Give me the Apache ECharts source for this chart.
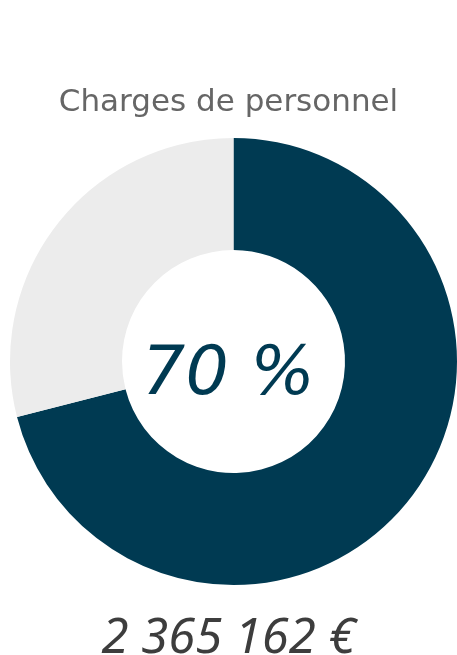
<!DOCTYPE html>
<html>
<head>
<meta charset="utf-8">
<script src="https://cdn.jsdelivr.net/npm/echarts@6/dist/echarts.min.js"></script>
<style>
  html, body { margin: 0; padding: 0; background: #fff; }
  #chart { width: 457px; height: 655px; }
</style>
</head>
<body>
<div id="chart"></div>
<script>
  var chartTitle = 'Charges de personnel';
  var sliceNames = ['Charges de personnel', 'Autres'];
  // share (the boundary sits ~14° below horizontal)
  var sliceValues = [71, 29];
  var centerLabel = '70 %';
  var amountLabel = '2 365 162 €';

  var chart = echarts.init(document.getElementById('chart'));

  chart.setOption({
    animation: false,
    title: [
      {
        text: chartTitle,
        left: 'center',
        top: 82,
        textStyle: {
          fontFamily: 'DejaVu Sans',
          fontWeight: 'normal',
          fontSize: 31,
          color: '#666666'
        }
      },
      {
        text: centerLabel,
        left: 'center',
        top: 337,
        textStyle: {
          fontFamily: 'DejaVu Sans',
          fontStyle: 'italic',
          fontWeight: 'normal',
          fontSize: 68,
          color: '#003a52'
        }
      },
      {
        text: amountLabel,
        left: 'center',
        top: 610,
        textStyle: {
          fontFamily: 'Noto Sans',
          fontStyle: 'italic',
          fontWeight: 'normal',
          fontSize: 49,
          color: '#3d3d3d'
        }
      }
    ],
    series: [
      {
        type: 'pie',
        center: [233.5, 361.5],
        radius: [111.5, 223.5],
        startAngle: 90,
        clockwise: true,
        silent: true,
        label: { show: false },
        labelLine: { show: false },
        data: sliceNames.map(function (name, i) {
          return {
            name: name,
            value: sliceValues[i],
            itemStyle: { color: i === 0 ? '#003a52' : '#ececec' }
          };
        })
      }
    ]
  });
</script>
</body>
</html>
